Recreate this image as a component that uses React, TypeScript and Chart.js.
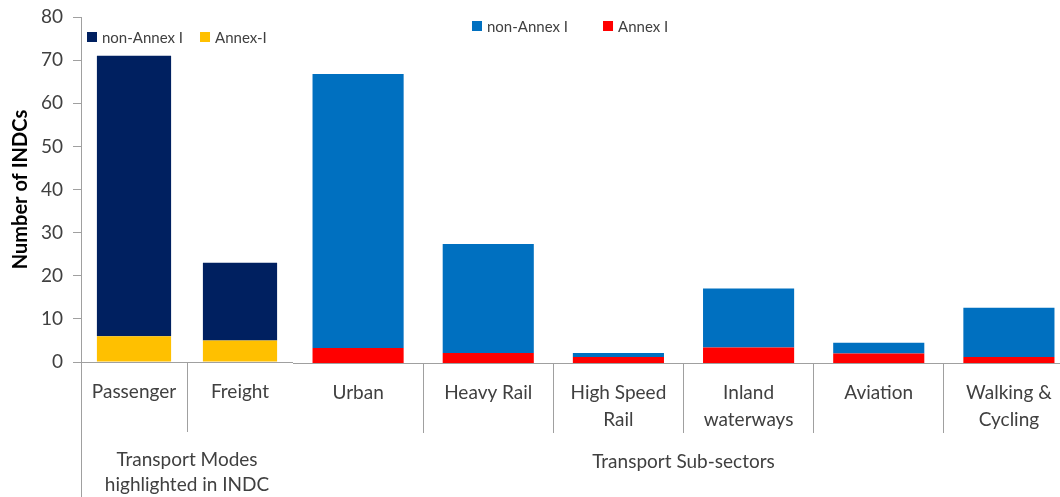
import React, { useEffect, useRef } from 'react';
import { Chart, registerables } from 'chart.js';

Chart.register(...registerables);

const FONT = 'Lato, "Open Sans", "DejaVu Sans", sans-serif';
const TEXT = '#404040';
const AXIS = '#A0A0A0';

// ---- data ----
const modeCategories = ['Passenger', 'Freight'];
const modeNonAnnex = [65, 18];
const modeAnnex = [6, 5];
const modeGroupLabel = ['Transport Modes', 'highlighted in INDC'];

const subCategories = [
  'Urban',
  'Heavy Rail',
  ['High Speed', 'Rail'],
  ['Inland', 'waterways'],
  'Aviation',
  ['Walking &', 'Cycling'],
];
const subNonAnnex = [63.5, 25.3, 0.9, 13.7, 2.5, 11.4];
const subAnnex = [3.5, 2.3, 1.4, 3.6, 2.2, 1.4];
const subGroupLabel = 'Transport Sub-sectors';

const yMin = 0;
const yMax = 80;
const yStep = 10;
const yTitle = 'Number of INDCs';

// ---- plugins ----
const rowLegend = {
  id: 'rowLegend',
  afterDraw(chart: any, _args: any, opts: any) {
    if (!opts || !opts.display) return;
    const ctx = chart.ctx;
    ctx.save();
    ctx.font = `${opts.size}px ${FONT}`;
    ctx.textBaseline = 'middle';
    ctx.textAlign = 'left';
    let x = opts.x;
    const y = opts.y;
    const box = opts.box;
    const items = [...chart.data.datasets].reverse();
    items.forEach((ds: any) => {
      ctx.fillStyle = ds.backgroundColor;
      ctx.fillRect(x, y - box / 2, box, box);
      x += box + opts.textGap;
      ctx.fillStyle = TEXT;
      ctx.fillText(ds.label, x, y + 1);
      x += ctx.measureText(ds.label).width + opts.itemGap;
    });
    ctx.restore();
  },
};

const groupLines = {
  id: 'groupLines',
  afterDraw(chart: any, _args: any, opts: any) {
    if (!opts || !opts.lines) return;
    const sx = chart.scales.x;
    const ctx = chart.ctx;
    ctx.save();
    ctx.strokeStyle = AXIS;
    ctx.lineWidth = 1;
    opts.lines.forEach((l: any) => {
      const px = Math.round(l.edge === 'left' ? sx.left : sx.right) + 0.5;
      ctx.beginPath();
      ctx.moveTo(px, sx.top);
      ctx.lineTo(px, sx.top + l.length);
      ctx.stroke();
    });
    ctx.restore();
  },
};

function xScale(title: any, titlePad: number, height: number) {
  return {
    stacked: true,
    offset: true,
    grid: { offset: true, drawOnChartArea: false, tickLength: 70, color: AXIS },
    border: { color: AXIS },
    ticks: {
      color: TEXT,
      font: { family: FONT, size: 19, lineHeight: '27px' },
      padding: -54,
      maxRotation: 0,
      autoSkip: false,
    },
    title: {
      display: true,
      text: title,
      color: TEXT,
      font: { family: FONT, size: 19, lineHeight: '25px' },
      padding: { top: 0, bottom: titlePad },
    },
    afterFit: (s: any) => {
      s.height = height;
    },
  };
}

function ModesChart() {
  const ref = useRef<HTMLCanvasElement | null>(null);
  useEffect(() => {
    if (!ref.current) return;
    const chart = new Chart(ref.current, {
      type: 'bar',
      data: {
        labels: modeCategories,
        datasets: [
          { label: 'Annex-I', data: modeAnnex, backgroundColor: '#FFC000' },
          { label: 'non-Annex I', data: modeNonAnnex, backgroundColor: '#002060' },
        ],
      },
      options: {
        responsive: false,
        animation: false,
        events: [],
        layout: { padding: { top: 17, left: 0, right: 0, bottom: 0 } },
        datasets: { bar: { categoryPercentage: 0.7, barPercentage: 1 } },
        scales: {
          x: xScale(modeGroupLabel, 0, 135) as any,
          y: {
            stacked: true,
            min: yMin,
            max: yMax,
            ticks: {
              stepSize: yStep,
              color: TEXT,
              font: { family: FONT, size: 19 },
              padding: 10,
            },
            grid: { drawOnChartArea: false, tickLength: 8, color: AXIS },
            border: { color: AXIS },
            title: {
              display: true,
              text: yTitle,
              color: '#000',
              font: { family: FONT, size: 20, weight: 'bold' },
              padding: { top: 9, bottom: 0 },
            },
            afterFit: (s: any) => {
              s.width = 81;
              s.paddingTop = 0;
              s.paddingBottom = 0;
            },
          },
        },
        plugins: {
          legend: { display: false },
          tooltip: { enabled: false },
          rowLegend: { display: true, x: 87, y: 37, box: 10, textGap: 5, itemGap: 17, size: 15 },
          groupLines: {
            lines: [
              { edge: 'left', length: 135 },
              { edge: 'right', length: 111 },
            ],
          },
        } as any,
      },
      plugins: [rowLegend, groupLines],
    });
    return () => chart.destroy();
  }, []);
  return <canvas ref={ref} width={293} height={497} style={{ position: 'absolute', left: 0, top: 0 }} />;
}

function SubSectorChart() {
  const ref = useRef<HTMLCanvasElement | null>(null);
  useEffect(() => {
    if (!ref.current) return;
    const chart = new Chart(ref.current, {
      type: 'bar',
      data: {
        labels: subCategories as any,
        datasets: [
          { label: 'Annex I', data: subAnnex, backgroundColor: '#FF0000' },
          { label: 'non-Annex I', data: subNonAnnex, backgroundColor: '#0070C0' },
        ],
      },
      options: {
        responsive: false,
        animation: false,
        events: [],
        layout: { padding: { top: 18, left: 0, right: 0, bottom: 0 } },
        datasets: { bar: { categoryPercentage: 0.7, barPercentage: 1 } },
        scales: {
          x: xScale(subGroupLabel, 23, 134) as any,
          y: {
            display: false,
            stacked: true,
            min: yMin,
            max: yMax,
          },
        },
        plugins: {
          legend: { display: false },
          tooltip: { enabled: false },
          rowLegend: { display: true, x: 179, y: 26, box: 10, textGap: 5, itemGap: 35, size: 15 },
        } as any,
      },
      plugins: [rowLegend],
    });
    return () => chart.destroy();
  }, []);
  return <canvas ref={ref} width={781} height={497} style={{ position: 'absolute', left: 293, top: 0 }} />;
}

export default function App() {
  return (
    <div
      style={{
        position: 'fixed',
        left: 0,
        top: 0,
        width: 1060,
        height: 497,
        overflow: 'hidden',
        background: '#fff',
      }}
    >
      <ModesChart />
      <SubSectorChart />
    </div>
  );
}
